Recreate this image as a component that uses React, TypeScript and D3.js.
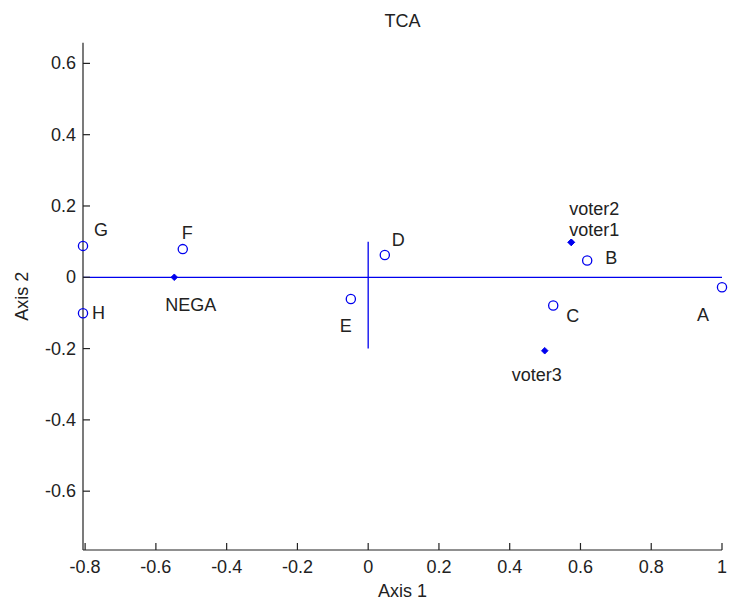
import React from "react";
import * as d3 from "d3";

const pointNames = ["A", "B", "C", "D", "E", "F", "G", "H"];
const pointX = [1.0, 0.619, 0.523, 0.047, -0.049, -0.524, -0.806, -0.806];
const pointY = [-0.028, 0.047, -0.079, 0.0625, -0.061, 0.079, 0.088, -0.101];

const supNames = ["NEGA", "voter1", "voter2", "voter3"];
const supX = [-0.548, 0.574, 0.574, 0.499];
const supY = [0, 0.098, 0.098, -0.206];

// label offsets in px (layout)
const pointLabelDx = [-25, 18, 13, 7, -11, -1, 11, 9];
const pointLabelDy = [28, -3, 11, -15, 27, -16, -16, 0];
const supLabelDx = [-9, -2, -2, -33];
const supLabelDy = [28, -12, -33, 24];

const xTicks = [-0.8, -0.6, -0.4, -0.2, 0, 0.2, 0.4, 0.6, 0.8, 1];
const xTickLabels = ["-0.8", "-0.6", "-0.4", "-0.2", "0", "0.2", "0.4", "0.6", "0.8", "1"];
const yTicks = [-0.6, -0.4, -0.2, 0, 0.2, 0.4, 0.6];
const yTickLabels = ["-0.6", "-0.4", "-0.2", "0", "0.2", "0.4", "0.6"];

const xDomain = [-0.806, 1];
const yDomain = [-0.765, 0.658];
const hLine = { x: [-0.806, 1], y: 0 };
const vLine = { x: 0, y: [-0.2, 0.1] };

const W = 729;
const H = 606;
const BLUE = "#0000ee";
const FONT = "Arial, 'Liberation Sans', sans-serif";
const FS = 18;

export default function App() {
  const x = d3.scaleLinear().domain(xDomain).range([83, 722]);
  const y = d3.scaleLinear().domain(yDomain).range([550, 42.7]);
  const diamond = d3.symbol().type(d3.symbolSquare).size(22)();
  const x0 = x.range()[0];
  const y0 = y.range()[0];

  return (
    <svg
      width={W}
      height={H}
      style={{ position: "absolute", left: 0, top: 0, background: "#fff" }}
      fontFamily={FONT}
    >
      <rect width={W} height={H} fill="#fff" />
      {/* reference lines */}
      <line x1={x(hLine.x[0])} x2={x(hLine.x[1])} y1={y(hLine.y)} y2={y(hLine.y)} stroke={BLUE} strokeWidth={1.3} />
      <line x1={x(vLine.x)} x2={x(vLine.x)} y1={y(vLine.y[0])} y2={y(vLine.y[1])} stroke={BLUE} strokeWidth={1.3} />

      {/* axes */}
      <line x1={x0} x2={x0} y1={y.range()[1]} y2={y0} stroke="#222" strokeWidth={1.2} />
      <line x1={x0} x2={x.range()[1]} y1={y0} y2={y0} stroke="#222" strokeWidth={1.2} />
      {xTicks.map((t, i) => (
        <g key={"xt" + i}>
          <line x1={x(t)} x2={x(t)} y1={y0} y2={y0 - 7} stroke="#222" strokeWidth={1.2} />
          <text x={x(t)} y={y0 + 17} fontSize={FS} textAnchor="middle" dominantBaseline="central" fill="#222">
            {xTickLabels[i]}
          </text>
        </g>
      ))}
      {yTicks.map((t, i) => (
        <g key={"yt" + i}>
          <line x1={x0} x2={x0 + 7} y1={y(t)} y2={y(t)} stroke="#222" strokeWidth={1.2} />
          <text x={x0 - 7} y={y(t)} fontSize={FS} textAnchor="end" dominantBaseline="central" fill="#222">
            {yTickLabels[i]}
          </text>
        </g>
      ))}

      {/* titles */}
      <text x={(x.range()[0] + x.range()[1]) / 2} y={21} fontSize={FS} textAnchor="middle" dominantBaseline="central" fill="#222">
        TCA
      </text>
      <text x={(x.range()[0] + x.range()[1]) / 2} y={591} fontSize={FS} textAnchor="middle" dominantBaseline="central" fill="#222">
        Axis 1
      </text>
      <text
        transform={`translate(22, ${(y.range()[0] + y.range()[1]) / 2}) rotate(-90)`}
        fontSize={FS}
        textAnchor="middle"
        dominantBaseline="central"
        fill="#222"
      >
        Axis 2
      </text>

      {/* main points */}
      {pointNames.map((n, i) => (
        <g key={"p" + n}>
          <circle cx={x(pointX[i])} cy={y(pointY[i])} r={4.6} fill="none" stroke={BLUE} strokeWidth={1.3} />
          <text
            x={x(pointX[i]) + pointLabelDx[i]}
            y={y(pointY[i]) + pointLabelDy[i]}
            fontSize={FS}
            dominantBaseline="central"
            fill="#222"
          >
            {n}
          </text>
        </g>
      ))}

      {/* supplementary points */}
      {supNames.map((n, i) => (
        <g key={"s" + n}>
          <path
            d={diamond}
            transform={`translate(${x(supX[i])},${y(supY[i])}) rotate(45)`}
            fill={BLUE}
            stroke={BLUE}
            strokeWidth={0.8}
          />
          <text
            x={x(supX[i]) + supLabelDx[i]}
            y={y(supY[i]) + supLabelDy[i]}
            fontSize={FS}
            dominantBaseline="central"
            fill="#222"
          >
            {n}
          </text>
        </g>
      ))}
    </svg>
  );
}
